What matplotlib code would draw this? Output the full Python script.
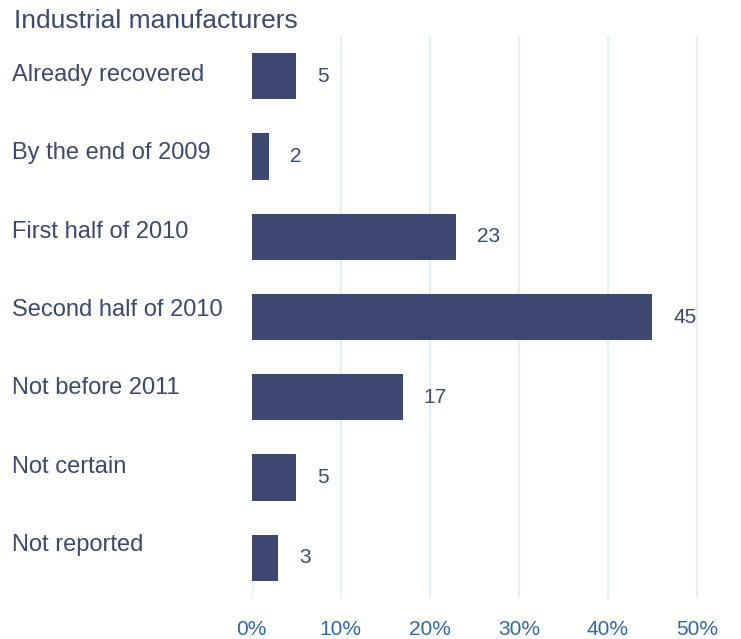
import matplotlib
matplotlib.use("Agg")
import matplotlib.pyplot as plt

TITLE = "Industrial manufacturers"
CATEGORIES = [
    "Already recovered",
    "By the end of 2009",
    "First half of 2010",
    "Second half of 2010",
    "Not before 2011",
    "Not certain",
    "Not reported",
]
VALUES = [5, 2, 23, 45, 17, 5, 3]
XTICKS = [0, 10, 20, 30, 40, 50]

BAR_COLOR = "#3c4870"
TEXT_COLOR = "#3c4870"
TICK_COLOR = "#2f67a6"
GRID_COLOR = "#ddeff8"

plt.rcParams["font.family"] = ["Liberation Sans", "DejaVu Sans"]

W, H = 741, 639
fig = plt.figure(figsize=(W / 100, H / 100), dpi=100)
ax = fig.add_axes([251.5 / W, (H - 598) / H, 490 / W, 562 / H])

y = list(range(len(CATEGORIES)))
ax.barh(y, VALUES, height=0.575, color=BAR_COLOR, zorder=3)
ax.set_xlim(0, 55)
ax.set_ylim(6.5, -0.5)

# light vertical grid; the zero line only shows below the last bar
for t in XTICKS[1:]:
    ax.axvline(t, color=GRID_COLOR, lw=1.2, zorder=1)
ax.axvline(0, ymax=17 / 562, color=GRID_COLOR, lw=1.2, zorder=1)

for s in ax.spines.values():
    s.set_visible(False)
ax.set_yticks([])
ax.set_xticks(XTICKS)
ax.set_xticklabels([f"{t}%" for t in XTICKS])
ax.tick_params(axis="x", length=0, pad=16, labelsize=15, labelcolor=TICK_COLOR)

for yi, v in zip(y, VALUES):
    ax.annotate(str(v), (v, yi), xytext=(15, 0), textcoords="offset points",
                ha="left", va="center", fontsize=15, color=TEXT_COLOR)

# category names run down the left margin on their own, slightly tighter, rhythm
for i, name in enumerate(CATEGORIES):
    base = 81 + 78.33 * i
    fig.text(12 / W, 1 - base / H, name, ha="left", va="baseline",
             fontsize=17, color=TEXT_COLOR)

fig.text(14 / W, 1 - 21 / H, TITLE, ha="left", va="center", fontsize=19,
         color=TEXT_COLOR)

fig.savefig("out.png", dpi=100)
